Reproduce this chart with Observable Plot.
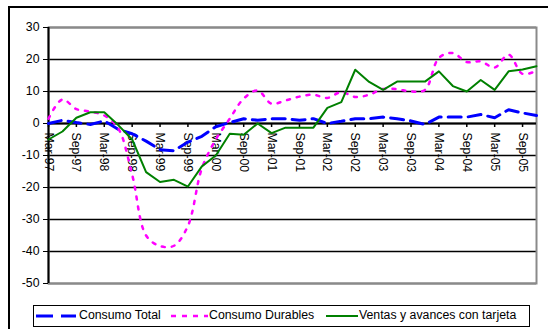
<!DOCTYPE html>
<html>
<head>
<meta charset="utf-8">
<script src="https://cdn.jsdelivr.net/npm/d3@7"></script>
<script src="https://cdn.jsdelivr.net/npm/@observablehq/plot@0.6"></script>
<style>
  body { margin: 0; background: #fff; font-family: Arial, "Liberation Sans", sans-serif; }
  #wrap { position: relative; width: 548px; height: 329px; overflow: hidden; background: #fff; }
  #outline { position: absolute; left: 8px; top: 6px; width: 700px; height: 500px;
             border-top: 2px solid #000; border-left: 2px solid #000; }
  #chart { position: absolute; left: 0; top: 0; }
  #legend { position: absolute; left: 33px; top: 305px; width: 497px; height: 22px;
            box-sizing: border-box; border: 1.5px solid #000; background: #fff;
            font-size: 12.3px; color: #000; }
  #legend .item { position: absolute; top: 0; height: 19px; line-height: 19px; white-space: nowrap; }
  #legend svg { position: absolute; top: 0; }
</style>
</head>
<body>
<div id="wrap">
  <div id="outline"></div>
  <div id="chart"></div>
  <div id="legend"></div>
</div>
<script>
// Quarterly periods, Mar-97 .. Dec-05
const quarters = [
  "Mar-97","Jun-97","Sep-97","Dec-97","Mar-98","Jun-98","Sep-98","Dec-98",
  "Mar-99","Jun-99","Sep-99","Dec-99","Mar-00","Jun-00","Sep-00","Dec-00",
  "Mar-01","Jun-01","Sep-01","Dec-01","Mar-02","Jun-02","Sep-02","Dec-02",
  "Mar-03","Jun-03","Sep-03","Dec-03","Mar-04","Jun-04","Sep-04","Dec-04",
  "Mar-05","Jun-05","Sep-05","Dec-05"
];

// Annual change, %
const consumoTotal = [
  0, 1, 0.3, -0.3, 0.8, -1.8, -3.2, -5.5, -8.2, -8.5, -5.8, -4,
  -1, 0.3, 1.5, 1, 1.5, 1.5, 1, 1.5, 0, 0.7, 1.5, 1.5,
  2, 1.5, 0.8, -0.3, 2, 2, 2, 2.8, 1.8, 4.3, 3.3, 2.5
];
const consumoDurables = [
  1.5, 7.5, 4.5, 3.7, 2.5, -1.5, -16, -35, -38.3, -38.2, -32, -14,
  -5, 1.5, 7.8, 10.3, 6.2, 7.2, 8.4, 9, 8, 9.8, 8.3, 9,
  10.8, 10.7, 10, 10.5, 20.5, 22, 19.2, 19.4, 17.5, 21.5, 15.5, 16.5
];
const ventasTarjeta = [
  -5, -2.5, 1.8, 3.5, 3.5, -0.5, -5, -15.2, -18.3, -17.6, -19.7, -13.4,
  -10, -3.2, -3.5, 0, -3, -1.3, -1.3, -1.3, 4.9, 6.7, 16.8, 13,
  10.5, 13.1, 13.1, 13.1, 16.3, 11.7, 10, 13.6, 10.5, 16.3, 16.9, 17.9
];

const yTicks = [-50, -40, -30, -20, -10, 0, 10, 20, 30];
const xLabels = quarters.filter(q => q.startsWith("Mar") || q.startsWith("Sep"));

const seriesNames = ["Consumo Total", "Consumo Durables", "Ventas y avances con tarjeta"];
const seriesStyles = [
  { stroke: "#0000ff", strokeWidth: 3, strokeDasharray: "13,7", legendDash: "17,8", curve: "linear" },
  { stroke: "#ff00ff", strokeWidth: 2.5, strokeDasharray: "3,7", legendDash: "5,6", curve: "catmull-rom" },
  { stroke: "#008000", strokeWidth: 2, strokeDasharray: null, legendDash: null, curve: "linear" }
];
const seriesValues = [consumoTotal, consumoDurables, ventasTarjeta];

const rows = values => quarters.map((q, i) => ({ q, v: values[i] }));

const chart = Plot.plot({
  width: 548,
  height: 300,
  marginTop: 27,
  marginBottom: 17,
  marginLeft: 48,
  marginRight: 12,
  style: { fontFamily: 'Arial, "Liberation Sans", sans-serif', fontSize: "12.3px", color: "#000", background: "transparent" },
  x: { type: "point", domain: quarters, padding: 0, axis: null },
  y: { domain: [-50, 30] },
  marks: [
    Plot.ruleY(yTicks, { stroke: "#000", strokeWidth: 1.5 }),
    Plot.frame({ stroke: "#8a8a8a", strokeWidth: 2 }),
    Plot.ruleY([0], { stroke: "#000", strokeWidth: 2 }),
    Plot.ruleX(xLabels, { x: d => d, y1: 0, y2: 0, insetBottom: -4, stroke: "#000", strokeWidth: 1.5 }),
    Plot.text(xLabels, { x: d => d, y: 0, text: d => d, rotate: 90, textAnchor: "start", dy: 9, fill: "#000" }),
    Plot.ruleX([quarters[0]], { stroke: "#000", strokeWidth: 2 }),
    Plot.axisY(yTicks, { tickSize: 5, tickPadding: 4, tickFormat: d => String(d), label: null, stroke: "#000", fill: "#000" }),
    ...seriesValues.map((vals, i) => Plot.line(rows(vals), {
      x: "q", y: "v",
      stroke: seriesStyles[i].stroke,
      strokeWidth: seriesStyles[i].strokeWidth,
      strokeDasharray: seriesStyles[i].strokeDasharray,
      curve: seriesStyles[i].curve
    }))
  ]
});
document.getElementById("chart").appendChild(chart);

// Legend
const legend = document.getElementById("legend");
const legendLayout = [
  { swatch: [2, 42], text: 45 },
  { swatch: [137, 174], text: 175 },
  { swatch: [292, 324], text: 325 }
];
seriesNames.forEach((name, i) => {
  const s = seriesStyles[i];
  const [a, b] = legendLayout[i].swatch;
  const svgNS = "http://www.w3.org/2000/svg";
  const svg = document.createElementNS(svgNS, "svg");
  svg.setAttribute("width", b - a);
  svg.setAttribute("height", 19);
  svg.style.left = a + "px";
  const line = document.createElementNS(svgNS, "line");
  line.setAttribute("x1", 0); line.setAttribute("x2", b - a);
  line.setAttribute("y1", 10); line.setAttribute("y2", 10);
  line.setAttribute("stroke", s.stroke);
  line.setAttribute("stroke-width", s.strokeWidth);
  if (s.legendDash) line.setAttribute("stroke-dasharray", s.legendDash);
  svg.appendChild(line);
  legend.appendChild(svg);
  const t = document.createElement("div");
  t.className = "item";
  t.style.left = legendLayout[i].text + "px";
  t.textContent = name;
  legend.appendChild(t);
});
</script>
</body>
</html>
